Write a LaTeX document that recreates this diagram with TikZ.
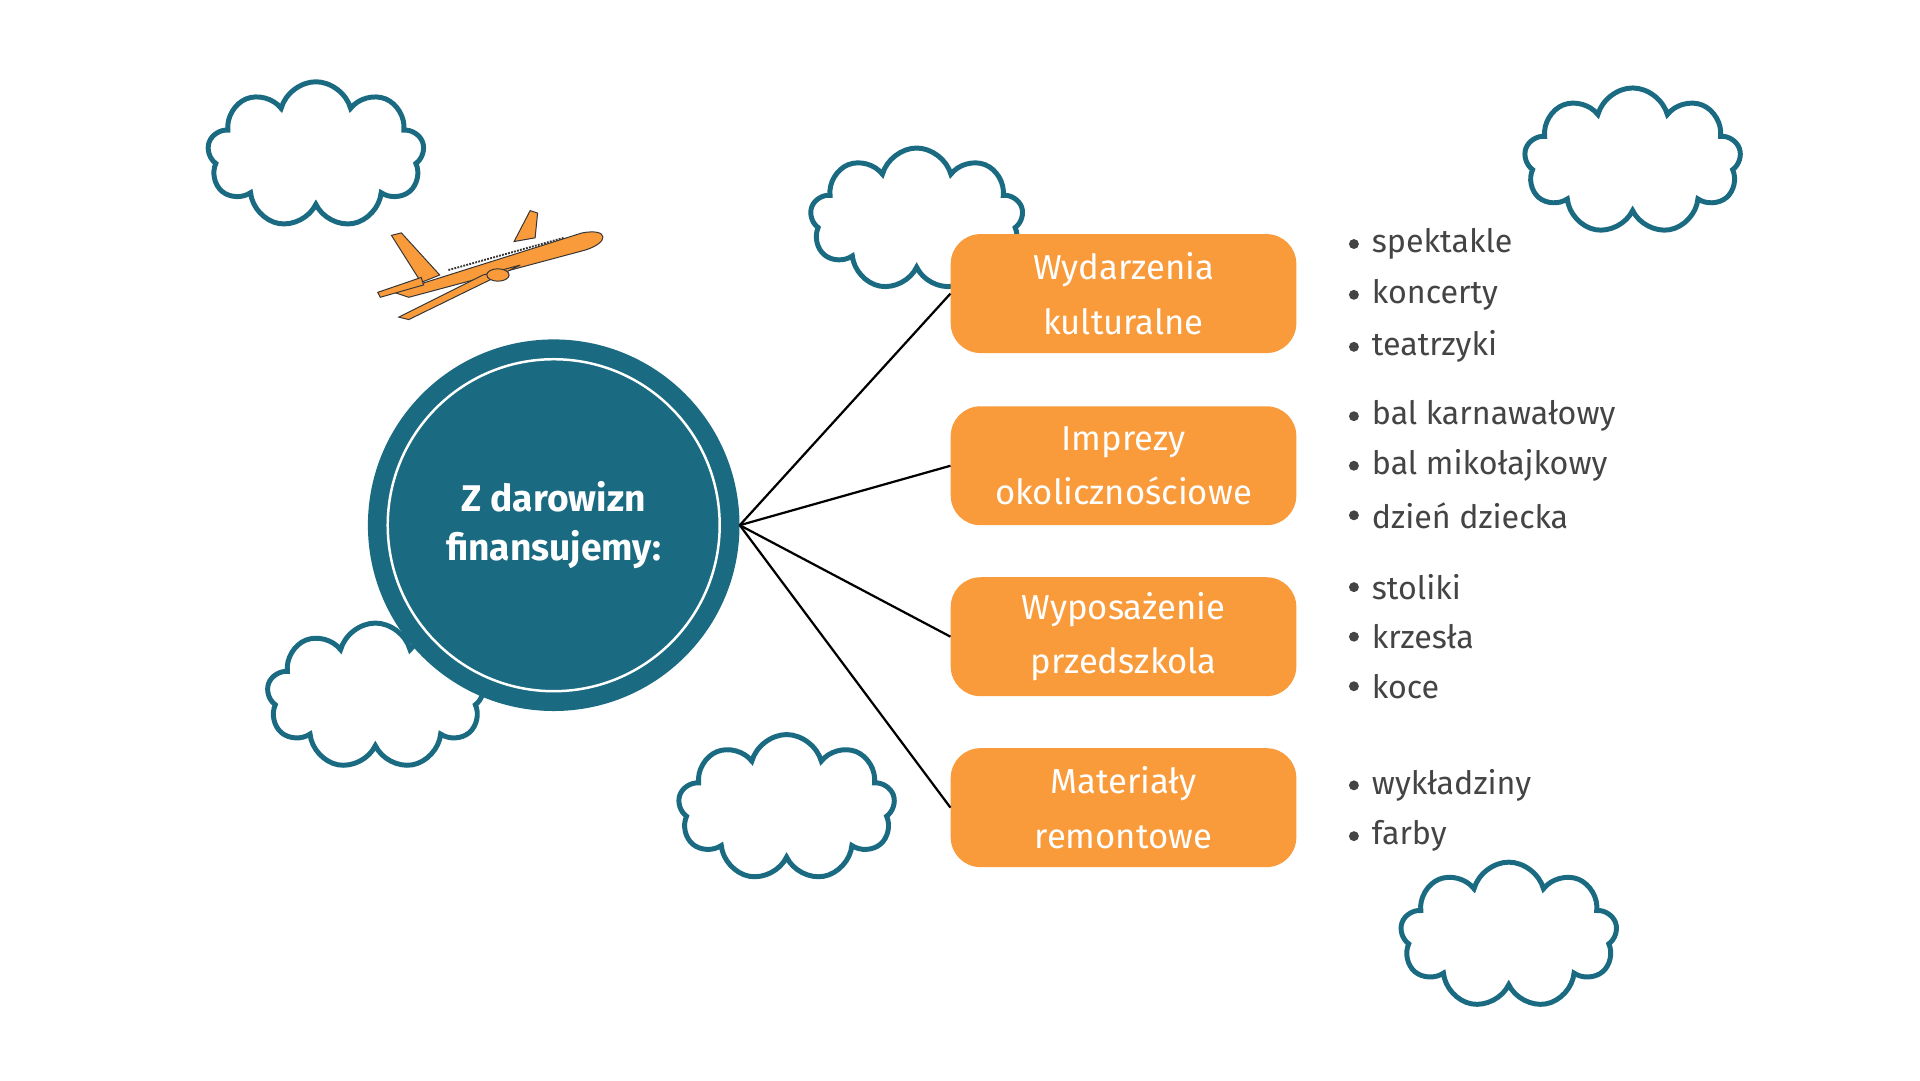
\documentclass[tikz,border=0pt]{standalone}
\usepackage{fontspec}
\setmainfont{Fira Sans}
\usetikzlibrary{shapes,positioning}
\definecolor{teal1}{HTML}{1A6B82}
\definecolor{orange1}{HTML}{F99B3B}
\definecolor{grey1}{HTML}{444444}
\begin{document}
\begin{tikzpicture}[x=1pt,y=-1pt,
    cloudbox/.style={cloud, cloud puffs=9, draw=teal1, line width=4pt, fill=white, aspect=1.5},
    topic/.style={rectangle, rounded corners=24pt, fill=orange1, text=white, minimum width=279pt, minimum height=96pt, align=center, font=\fontsize{28}{44}\selectfont},
    item/.style={anchor=west, text=grey1, font=\fontsize{26}{30}\selectfont\addfontfeature{Letters=Uppercase}\normalfont\fontsize{26}{30}\selectfont},
    link/.style={draw=black, line width=1.8pt}
]
\useasboundingbox (0,0) rectangle (1550,872);
\fill[white] (0,0) rectangle (1550,872);

% clouds
\node[cloudbox, minimum width=175pt, minimum height=118pt] (c1) at (255,125) {};
\node[cloudbox, minimum width=172pt, minimum height=115pt] (c2) at (740,177) {};
\node[cloudbox, minimum width=175pt, minimum height=118pt] (c3) at (1318,130) {};
\node[cloudbox, minimum width=175pt, minimum height=118pt] (c4) at (303,562) {};
\node[cloudbox, minimum width=175pt, minimum height=118pt] (c5) at (635,652) {};
\node[cloudbox, minimum width=175pt, minimum height=118pt] (c6) at (1218,755) {};

% airplane
\begin{scope}[fill=orange1, draw=grey1!80!black, line width=0.8pt]
\filldraw (318,236) -- (470,188) .. controls (492,184) and (492,196) .. (472,202) -- (330,240) -- cycle;
\filldraw (415,195) -- (428,170) -- (434,172) -- (432,192) -- cycle;
\filldraw (390,222) -- (322,256) -- (330,258) -- (420,214) -- cycle;
\filldraw (340,228) -- (316,190) -- (324,188) -- (355,222) -- cycle;
\filldraw (305,236) -- (340,224) -- (342,230) -- (307,240) -- cycle;
\filldraw (402,222) ellipse (9pt and 5pt);
\draw[densely dotted, line width=1.5pt] (362,218) -- (455,192);
\end{scope}

% centre
\node[circle, fill=teal1, minimum size=300pt] (hub) at (447,424) {};
\draw[white, line width=2pt] (hub.center) circle (134pt);
\node[text=white, align=center, font=\fontsize{30}{40}\selectfont\bfseries] at (hub.center) {Z darowizn\\finansujemy:};

% topics
\node[topic] (kult) at (907,237) {Wydarzenia\\kulturalne};
\node[topic] (impr) at (907,376) {Imprezy\\okolicznościowe};
\node[topic] (wypo) at (907,514) {Wyposażenie\\przedszkola};
\node[topic] (mat) at (907,652) {Materiały\\remontowe};

\foreach \t in {kult,impr,wypo,mat}
    \draw[link] (hub.east) -- (\t.west);

% lists
\foreach \y/\s in {197/spektakle, 238/koncerty, 280/teatrzyki,
                   336/bal karnawałowy, 376/bal mikołajkowy, 416/dzień dziecka,
                   474/stoliki, 514/krzesła, 554/koce,
                   634/wykładziny, 675/farby}{
    \fill[grey1] (1093,\y) circle (4pt);
    \node[anchor=west, text=grey1, font=\fontsize{26}{30}\selectfont] at (1104,\y) {\s};
}
\end{tikzpicture}
\end{document}
